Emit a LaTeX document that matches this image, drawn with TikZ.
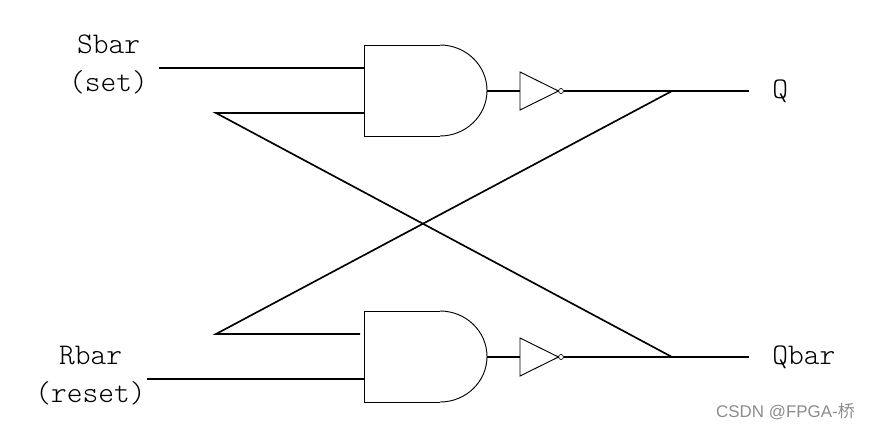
\documentclass[tikz,border=0pt]{standalone}
\usepackage{fontspec}
\setsansfont{Liberation Sans}
\setmonofont{Latin Modern Mono Light}
\newfontfamily\cjkmark{Noto Sans CJK SC}
\tikzset{
  wire/.style={line width=1.25pt},
  gateline/.style={line width=0.7pt},
  sig/.style={font=\fontsize{22.5pt}{28.5pt}\selectfont\ttfamily, align=center, inner sep=0pt}
}
\begin{document}
\begin{tikzpicture}[x=0.75pt,y=-0.75pt]
  \useasboundingbox (0,0) rectangle (870,432);

  % Draw gates
  \foreach \g/\y in {top/45,bot/311} {
    \draw[gateline] (440,\y) -- (364,\y) -- (364,\y+91) -- (440,\y+91);
    \draw[gateline] (440,\y) arc[start angle=-90,end angle=90,x radius=47,y radius=45.5];
    \draw[gateline] (520,\y+27) -- (520,\y+65) -- (558.5,\y+46) -- cycle;
    \draw[gateline,line width=0.5pt] (561,\y+46) circle (2.5);
    \coordinate (\g a) at (364,\y+23);
    \coordinate (\g b) at (364,\y+68);
    \coordinate (\g out) at (487,\y+46);
    \coordinate (\g inv) at (520,\y+46);
    \coordinate (\g bub) at (563.5,\y+46);
    \coordinate (\g join) at (672,\y+46);
    \coordinate (\g end) at (749,\y+46);
    \draw[wire] (\g out) -- (\g inv);
    \draw[wire] (\g bub) -- (\g join) -- (\g end);
  }

  % Free ends
  \coordinate (sbarIn) at (159,68);
  \coordinate (rbarIn) at (147,379);
  \coordinate (fbTop) at (216,113);
  \coordinate (fbBot) at (216,334);
  \coordinate (fbStop) at (360,334);

  \draw[wire] (sbarIn) -- (topa);
  \draw[wire] (rbarIn) -- (botb);
  \draw[wire] (topb) -- (fbTop) -- (botjoin);
  \draw[wire] (fbStop) -- (fbBot) -- (topjoin);

  % Labels
  \node[sig] (sbar) at (108.5,64) {Sbar\\(set)};
  \node[sig] (rbar) at (90.5,376) {Rbar\\(reset)};
  \node[sig,anchor=west] (q) at (772,91) {Q};
  \node[sig,anchor=west] (qbar) at (772,357) {Qbar};
  \node[anchor=east,inner sep=0pt,text=black!45,font=\fontsize{12.7pt}{14pt}\selectfont\sffamily] (csdn) at (855,412) {CSDN @FPGA-{\cjkmark 桥}};
\end{tikzpicture}
\end{document}
